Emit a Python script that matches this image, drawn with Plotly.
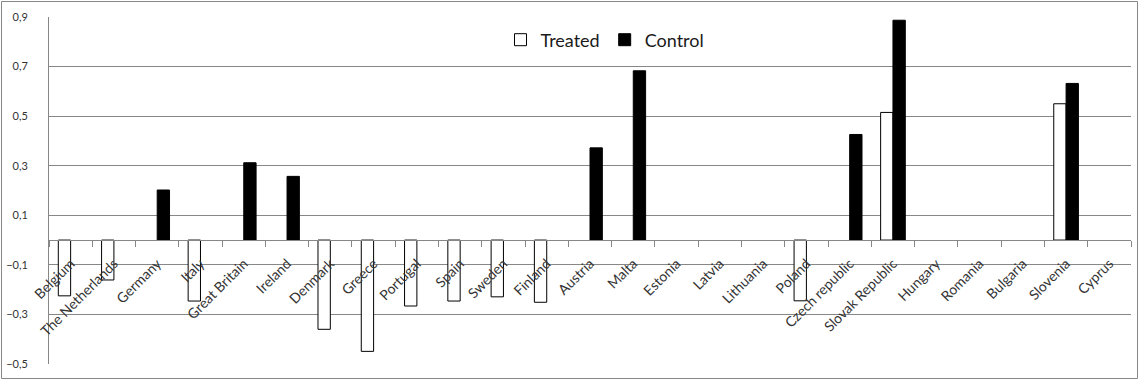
import plotly.graph_objects as go

countries = ["Belgium", "The Netherlands", "Germany", "Italy", "Great Britain", "Ireland",
             "Denmark", "Greece", "Portugal", "Spain", "Sweden", "Finland", "Austria", "Malta",
             "Estonia", "Latvia", "Lithuania", "Poland", "Czech republic", "Slovak Republic",
             "Hungary", "Romania", "Bulgaria", "Slovenia", "Cyprus"]

treated = [-0.225, -0.161, None, -0.246, None, None,
           -0.360, -0.449, -0.266, -0.246, -0.229, -0.251, None, None,
           None, None, None, -0.245, None, 0.515,
           None, None, None, 0.550, None]

control = [None, None, 0.202, None, 0.312, 0.257,
           None, None, None, None, None, None, 0.372, 0.683,
           None, None, None, None, 0.426, 0.887,
           None, None, None, 0.632, None]

y_ticks = [-0.5, -0.3, -0.1, 0.1, 0.3, 0.5, 0.7, 0.9]
y_min, y_max = -0.5, 0.9

W, H = 1140, 381
ml, mr, mt, mb = 49, 9, 17, 17
pw, ph = W - ml - mr, H - mt - mb

def px_x(p):
    return (p - ml) / pw

def px_y(p):
    return (H - mb - p) / ph

FONT = "Lato"
GRID = "#878787"

fig = go.Figure()
fig.add_trace(go.Bar(x=countries, y=treated, name="Treated",
                     marker=dict(color="white", line=dict(color="black", width=1))))
fig.add_trace(go.Bar(x=countries, y=control, name="Control",
                     marker=dict(color="black", line=dict(color="black", width=1))))

fig.update_layout(
    width=W, height=H,
    margin=dict(l=ml, r=mr, t=mt, b=mb, pad=0, autoexpand=False),
    paper_bgcolor="white", plot_bgcolor="white",
    barmode="group", bargap=0.43, bargroupgap=0,
    separators=",.",
    font=dict(family=FONT, color="#404040", size=12),
    showlegend=True,
    legend=dict(orientation="h", x=px_x(605), y=px_y(40), xanchor="center", yanchor="middle",
                font=dict(family=FONT, size=18, color="#1a1a1a"),
                bgcolor="rgba(0,0,0,0)", itemwidth=30, tracegroupgap=0),
    xaxis=dict(
        type="category", anchor="free", position=(0 - y_min) / (y_max - y_min),
        automargin=False,
        showline=True, linecolor=GRID, linewidth=1,
        ticks="outside", ticklen=6, tickcolor=GRID, tickson="boundaries",
        tickangle=-45, ticklabelstandoff=9,
        tickfont=dict(family=FONT, size=14, color="#333333"),
        showgrid=False, zeroline=False,
    ),
    yaxis=dict(
        range=[y_min, y_max], tickvals=y_ticks, tickformat=".1f",
        automargin=False,
        showgrid=True, gridcolor=GRID, gridwidth=1,
        showline=True, linecolor=GRID, linewidth=1,
        zeroline=False, ticks="", ticklabelstandoff=18,
        tickfont=dict(family=FONT, size=11, color="#333333"),
    ),
    shapes=[dict(type="rect", xref="paper", yref="paper",
                 x0=px_x(1.5), x1=px_x(1137.5), y0=px_y(378.5), y1=px_y(1.5),
                 line=dict(color=GRID, width=1), fillcolor="rgba(0,0,0,0)", layer="below")],
)

fig.write_html("out.html", config={"displayModeBar": False},
               post_script="document.body.style.margin='0';document.body.style.overflow='hidden';")
